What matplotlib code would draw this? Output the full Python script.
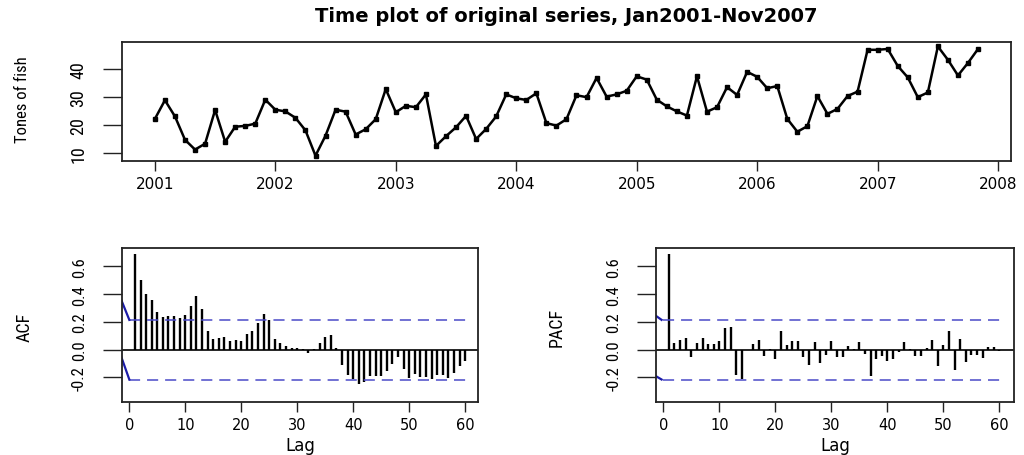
import numpy as np
import matplotlib
matplotlib.use("Agg")
import matplotlib.pyplot as plt
from matplotlib import font_manager

plt.rcParams['lines.scale_dashes'] = False

# ---------------- data ----------------
start_year = 2001
fish = [
    22.1, 28.8, 23.0, 14.6, 11.1, 13.2, 25.3, 13.9, 19.3, 19.6, 20.4, 29.0,   # 2001
    25.4, 24.8, 22.5, 18.0, 8.9, 16.1, 25.4, 24.7, 16.5, 18.4, 22.0, 32.8,    # 2002
    24.5, 26.8, 26.3, 30.9, 12.4, 15.9, 19.1, 23.2, 14.9, 18.5, 23.0, 30.9,   # 2003
    29.5, 28.9, 31.3, 20.6, 19.7, 22.0, 30.6, 29.9, 36.8, 30.1, 30.9, 32.2,   # 2004
    37.4, 36.2, 29.0, 26.6, 24.8, 23.3, 37.4, 24.7, 26.3, 33.5, 30.7, 39.0,   # 2005
    37.2, 33.1, 33.9, 22.1, 17.5, 19.5, 30.3, 23.9, 25.7, 30.3, 31.9, 46.9,   # 2006
    46.9, 47.2, 41.1, 37.0, 29.9, 31.6, 48.1, 43.3, 37.7, 42.2, 47.2,         # 2007
]

acf_vals = [
    0.692, 0.505, 0.402, 0.357, 0.273, 0.235, 0.240, 0.244, 0.232, 0.249,
    0.316, 0.390, 0.290, 0.137, 0.079, 0.084, 0.089, 0.060, 0.072, 0.060,
    0.110, 0.132, 0.189, 0.254, 0.213, 0.079, 0.048, 0.024, 0.014, 0.012,
    0.006, -0.024, 0.003, 0.045, 0.089, 0.103, 0.010, -0.108, -0.180, -0.211,
    -0.249, -0.235, -0.192, -0.190, -0.187, -0.151, -0.100, -0.053, -0.141, -0.206,
    -0.172, -0.194, -0.194, -0.211, -0.185, -0.180, -0.204, -0.168, -0.115, -0.079,
]

pacf_vals = [
    0.692, 0.045, 0.067, 0.084, -0.055, 0.048, 0.084, 0.043, 0.038, 0.065,
    0.156, 0.160, -0.184, -0.213, -0.005, 0.043, 0.067, -0.043, 0.005, -0.067,
    0.132, 0.036, 0.060, 0.060, -0.050, -0.108, 0.053, -0.093, -0.037, 0.060,
    -0.056, -0.056, 0.025, 0.002, 0.055, -0.031, -0.190, -0.067, -0.048, -0.085,
    -0.070, -0.019, 0.055, 0.002, -0.043, -0.048, 0.013, 0.072, -0.115, 0.037,
    0.137, -0.144, 0.079, -0.090, -0.037, -0.037, -0.062, 0.022, 0.018, -0.006,
]

ci = 0.215
acf_stub_lags = [-1.45, 0.0]
acf_stub_upper = [0.36, 0.215]
acf_stub_lower = [-0.05, -0.215]
pacf_stub_lags = [-1.35, -0.3]
pacf_stub_upper = [0.245, 0.215]
pacf_stub_lower = [-0.19, -0.215]

title = "Time plot of original series, Jan2001-Nov2007"
year_ticks = [2001, 2002, 2003, 2004, 2005, 2006, 2007, 2008]
fish_yticks = [10, 20, 30, 40]
lag_ticks = [0, 10, 20, 30, 40, 50, 60]
corr_yticks = [-0.2, 0.0, 0.2, 0.4, 0.6]

# ---------------- fonts ----------------
available = {f.name for f in font_manager.fontManager.ttflist}
narrow_family = 'DejaVu Sans'
for cand in ['Liberation Sans Narrow', 'DejaVu Sans Condensed', 'Roboto Condensed']:
    if cand in available:
        narrow_family = cand
        break
wide_family = 'DejaVu Sans'

# ---------------- figure ----------------
W, H = 1024, 456
fig = plt.figure(figsize=(W / 100, H / 100), dpi=100)

def rect(l, t, r, b):
    return [l / W, (H - b) / H, (r - l) / W, (b - t) / H]

def fx(px):
    return px / W

def fy(py):
    return 1 - py / H

def style_axes(ax, xpad, ysize):
    for s in ax.spines.values():
        s.set_linewidth(1.3)
        s.set_color('#222222')
    ax.tick_params(axis='y', length=14, width=1.0, pad=11, color='#222222',
                   labelrotation=90, labelfontfamily=narrow_family, labelsize=ysize)
    ax.tick_params(axis='x', length=7, width=1.0, pad=xpad, color='#222222',
                   labelfontfamily=wide_family)
    for lab in ax.get_yticklabels():
        lab.set_va('center')

# ---- top: time plot ----
ax1 = fig.add_axes(rect(122, 43, 1011, 162))
t = start_year + np.arange(len(fish)) / 12.0
ax1.plot(t, fish, color='black', lw=1.8, marker='s', ms=2.3)
ax1.set_xlim(2000.727, 2008.107)
ax1.set_ylim(7.0, 49.7)
ax1.set_xticks(year_ticks)
ax1.set_xticklabels([str(y) for y in year_ticks], fontsize=11)
ax1.set_yticks(fish_yticks)
ax1.set_yticklabels([str(v) for v in fish_yticks])
style_axes(ax1, 3.5, 13)
fig.text(fx(23), fy(100), "Tones of fish", rotation=90, ha='center', va='center',
         family=narrow_family, fontsize=12)
fig.text(fx(566), fy(17), title, ha='center', va='center', fontsize=14,
         fontweight='bold', family=wide_family)


def corr_panel(ax, vals, stub_lags, stub_up, stub_lo, xlim):
    lags = np.arange(1, len(vals) + 1)
    ax.vlines(lags, 0, vals, color='black', lw=1.7)
    ax.axhline(0, color='black', lw=1.2)
    for c in (ci, -ci):
        ax.plot([0, 60.7], [c, c], color='#4a4ac8', lw=1.1, dashes=(8, 5))
    ax.plot(stub_lags, stub_up, color='#1c1ca8', lw=1.6)
    ax.plot(stub_lags, stub_lo, color='#1c1ca8', lw=1.6)
    ax.set_xlim(*xlim)
    ax.set_ylim(-0.375, 0.731)
    ax.set_xticks(lag_ticks)
    ax.set_xticklabels([str(v) for v in lag_ticks], fontsize=10.5)
    ax.set_yticks(corr_yticks)
    ax.set_yticklabels([f"{v:.1f}" for v in corr_yticks])
    style_axes(ax, 4, 12)


ax2 = fig.add_axes(rect(121.7, 249.3, 478, 402.7))
corr_panel(ax2, acf_vals, acf_stub_lags, acf_stub_upper, acf_stub_lower, (-1.36, 62.3))
fig.text(fx(25), fy(327), "ACF", rotation=90, ha='center', va='center',
         family=narrow_family, fontsize=13)
fig.text(fx(300), fy(446), "Lag", ha='center', va='center',
         family=wide_family, fontsize=12)

ax3 = fig.add_axes(rect(656, 249.3, 1014, 402.7))
corr_panel(ax3, pacf_vals, pacf_stub_lags, pacf_stub_upper, pacf_stub_lower, (-1.3, 62.6))
fig.text(fx(557), fy(327), "PACF", rotation=90, ha='center', va='center',
         family=narrow_family, fontsize=13)
fig.text(fx(835), fy(446), "Lag", ha='center', va='center',
         family=wide_family, fontsize=12)

fig.savefig("out.png", dpi=100)
